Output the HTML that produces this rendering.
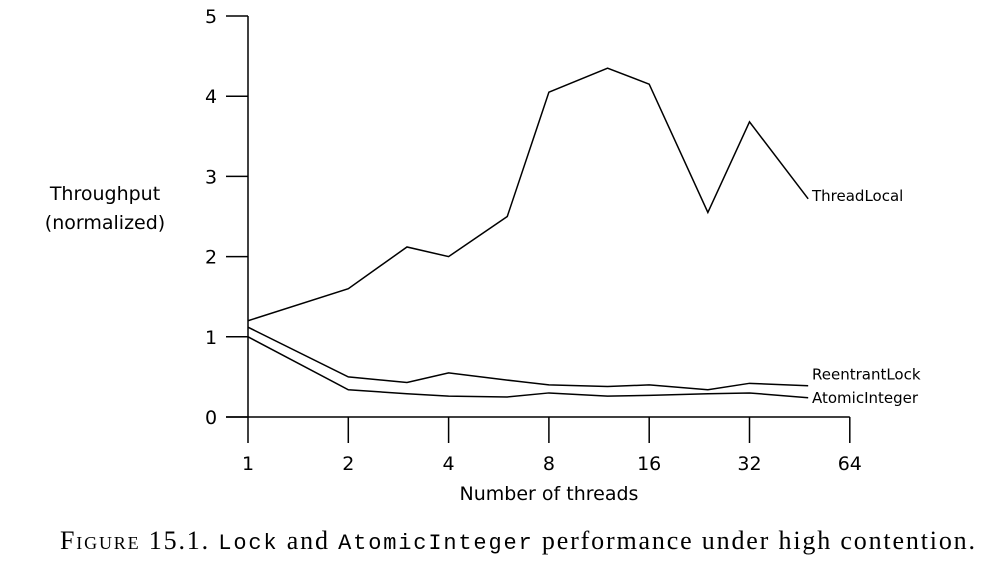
<!DOCTYPE html>
<html><head><meta charset="utf-8"><style>
body{margin:0;background:#fff;width:1007px;height:566px;overflow:hidden}
svg text{font-family:"DejaVu Sans","Liberation Sans",sans-serif;fill:#000}
</style></head><body>
<svg width="1007" height="566">
<g id="axes"></g>
<g id="series"></g>
<text x="105" y="200" font-size="19" text-anchor="middle">Throughput</text>
<text x="105" y="229" font-size="19" text-anchor="middle">(normalized)</text>
<text x="549" y="500" font-size="19" text-anchor="middle">Number of threads</text>
<text x="60" y="549" font-size="26" textLength="915" lengthAdjust="spacing" style="font-family:'Liberation Serif',serif"><tspan style="font-variant:small-caps">Figure</tspan> 15.1. <tspan style="font-family:'Liberation Mono',monospace;font-size:22px">Lock</tspan> and <tspan style="font-family:'Liberation Mono',monospace;font-size:22px">AtomicInteger</tspan> performance under high contention.</text>
</svg>
<script>
const threads=[1,2,3,4,6,8,12,16,24,32,48];
const threadLocal=[1.2,1.6,2.12,2.0,2.5,4.05,4.35,4.15,2.55,3.68,2.72];
const reentrant=[1.12,0.5,0.43,0.55,0.46,0.4,0.38,0.4,0.34,0.42,0.39];
const atomic=[1.0,0.34,0.29,0.26,0.25,0.3,0.26,0.27,0.29,0.3,0.24];
const xTicks=[1,2,4,8,16,32,64];
const yTicks=[0,1,2,3,4,5];
const X=v=>248+Math.log2(v)*100.3;
const Y=v=>417-v*80.2;
const NS='http://www.w3.org/2000/svg';
function mk(t,a,p){const e=document.createElementNS(NS,t);for(const k in a)e.setAttribute(k,a[k]);p.appendChild(e);return e;}
const ax=document.getElementById('axes'),se=document.getElementById('series');
let l=mk('line',{x1:248,y1:Y(5),x2:248,y2:417,stroke:'#000','stroke-width':1.5},ax);


l=mk('line',{x1:226,y1:417,x2:X(64),y2:417,stroke:'#000','stroke-width':1.5},ax);


yTicks.forEach(v=>{
 const t=mk('line',{x1:226,y1:Y(v),x2:248,y2:Y(v),stroke:'#000','stroke-width':1.5},ax);
 
 
 const tx=mk('text',{x:211,y:Y(v)+7,'font-size':19,'text-anchor':'middle'},ax);tx.textContent=v;
 
 
});
xTicks.forEach(v=>{
 const t=mk('line',{x1:X(v),y1:417,x2:X(v),y2:443,stroke:'#000','stroke-width':1.5},ax);
 
 
 const tx=mk('text',{x:X(v),y:470,'font-size':19,'text-anchor':'middle'},ax);tx.textContent=v;
 
 
});
[[threadLocal,'ThreadLocal',-3],[reentrant,'ReentrantLock',-11],[atomic,'AtomicInteger',0]].forEach(([d,n,off])=>{
 const p=mk('polyline',{points:threads.map((t,i)=>X(t)+','+Y(d[i])).join(' '),fill:'none',stroke:'#000','stroke-width':1.5},se);
 
 
 const last=d[d.length-1];
 const tx=mk('text',{x:812,y:Y(last)+off+5,'font-size':15},se);tx.textContent=n;
 
 
});
</script>
</body></html>
